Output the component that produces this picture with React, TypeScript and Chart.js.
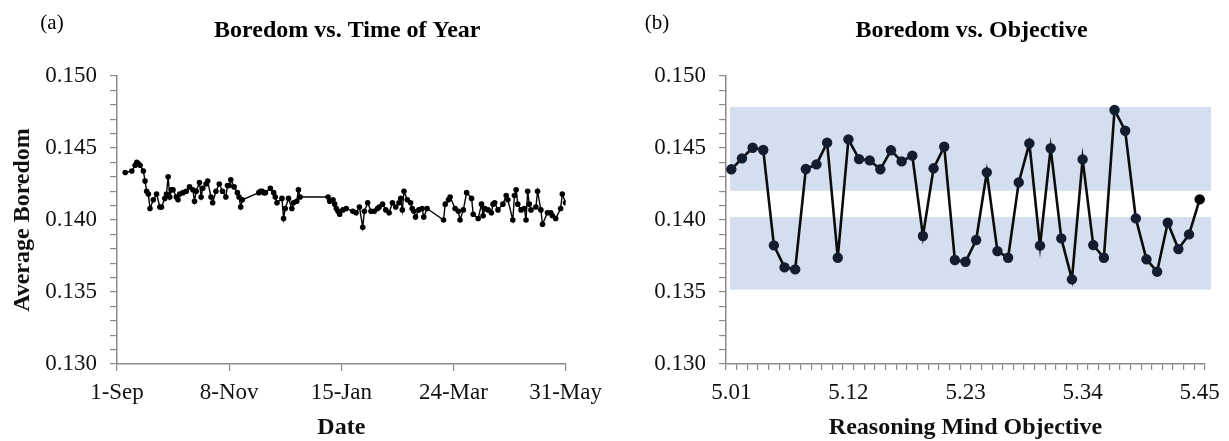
import React, { useEffect, useRef } from 'react';
import { Chart, registerables } from 'chart.js';

Chart.register(...registerables);

const FONT = '"Liberation Serif", "Times New Roman", serif';
const AXIS = '#8a8a8a';

// Panel (a): boredom vs. time of year (x = days after 1-Sep)
const dateTickDays = [0, 68, 136, 204, 272];
const dateTickLabels = ['1-Sep', '8-Nov', '15-Jan', '24-Mar', '31-May'];
const schoolDays = [
  5, 9, 11, 12, 13, 14, 16, 17, 18, 19, 20, 22, 24, 26, 27, 29, 30, 31, 32, 33,
  34, 36, 37, 38, 40, 42, 44, 46, 47, 48, 50, 51, 52, 54, 55, 57, 58, 60, 62, 64,
  66, 67, 68, 69, 71, 73, 74, 75, 76, 86, 87, 88, 89, 90, 93, 95, 96, 97, 100, 101,
  102, 104, 106, 107, 109, 110, 111, 128, 129, 131, 132, 133, 134, 135, 137, 139, 143, 145, 147, 149,
  150, 152, 154, 156, 158, 159, 161, 163, 165, 167, 169, 171, 172, 173, 174, 176, 178, 179, 180, 181,
  183, 185, 186, 188, 198, 199, 201, 202, 205, 207, 208, 210, 212, 215, 216, 219, 221, 222, 223, 225,
  227, 228, 229, 231, 234, 236, 237, 240, 241, 242, 243, 245, 247, 248, 249, 250, 251, 254, 255, 257,
  258, 261, 263, 264, 266, 269, 270, 272,
];
const boredomByDay = [
  0.1433, 0.1434, 0.1438, 0.1440, 0.1439, 0.1438, 0.1434, 0.1427, 0.1420, 0.1418, 0.1408, 0.1414, 0.1418, 0.1409, 0.1409, 0.1415, 0.1418, 0.1430, 0.1416, 0.1421,
  0.1421, 0.1416, 0.1414, 0.1418, 0.1419, 0.1420, 0.1423, 0.1421, 0.1413, 0.1420, 0.1426, 0.1416, 0.1422, 0.1425, 0.1427, 0.1416, 0.1412, 0.1420, 0.1425, 0.1420,
  0.1416, 0.1424, 0.1424, 0.1428, 0.1423, 0.1419, 0.1416, 0.1409, 0.1414, 0.1419, 0.1420, 0.1420, 0.1419, 0.1419, 0.1422, 0.1419, 0.1416, 0.1412, 0.1415, 0.1401,
  0.1408, 0.1415, 0.1408, 0.1412, 0.1413, 0.1421, 0.1416, 0.1416, 0.1413, 0.1414, 0.1411, 0.1408, 0.1406, 0.1404, 0.1407, 0.1408, 0.1406, 0.1405, 0.1409, 0.1395,
  0.1406, 0.1412, 0.1406, 0.1406, 0.1408, 0.1409, 0.1411, 0.1407, 0.1405, 0.1412, 0.1409, 0.1412, 0.1415, 0.1407, 0.1420, 0.1414, 0.1412, 0.1408, 0.1406, 0.1402,
  0.1407, 0.1408, 0.1402, 0.1408, 0.1400, 0.1411, 0.1414, 0.1416, 0.1408, 0.1406, 0.1400, 0.1407, 0.1419, 0.1415, 0.1404, 0.1401, 0.1411, 0.1403, 0.1408, 0.1407,
  0.1405, 0.1411, 0.1412, 0.1407, 0.1411, 0.1417, 0.1414, 0.1400, 0.1417, 0.1421, 0.1411, 0.1407, 0.1408, 0.1400, 0.1420, 0.1411, 0.1407, 0.1409, 0.1420, 0.1407,
  0.1397, 0.1405, 0.1405, 0.1403, 0.1401, 0.1408, 0.1418, 0.1412,
];

// Panel (b): boredom vs. Reasoning Mind objective
const objectiveLabels = [
  '5.01', '5.02', '5.03', '5.04', '5.05', '5.06', '5.07', '5.08', '5.09', '5.10',
  '5.11', '5.12', '5.13', '5.14', '5.15', '5.16', '5.17', '5.18', '5.19', '5.20',
  '5.21', '5.22', '5.23', '5.24', '5.25', '5.26', '5.27', '5.28', '5.29', '5.30',
  '5.31', '5.32', '5.33', '5.34', '5.35', '5.36', '5.37', '5.38', '5.39', '5.40',
  '5.41', '5.42', '5.43', '5.44', '5.45',
];
const boredomByObjective = [
  0.14352, 0.14428, 0.14502, 0.14486, 0.13824, 0.13671, 0.13657, 0.14354, 0.14386, 0.14537,
  0.13738, 0.14560, 0.14423, 0.14414, 0.14352, 0.14484, 0.14407, 0.14447, 0.13889, 0.14359,
  0.14509, 0.13722, 0.13710, 0.13861, 0.14331, 0.13784, 0.13738, 0.14261, 0.14532, 0.13822,
  0.14498, 0.13872, 0.13588, 0.14421, 0.13826, 0.13738, 0.14764, 0.14620, 0.14011, 0.13727,
  0.13641, 0.13981, 0.13798, 0.13900, 0.14143,
];
const bandLow = [0.14203, 0.13516];
const bandHigh = [0.14785, 0.14021];
const objectiveTickLabels = ['5.01', '5.12', '5.23', '5.34', '5.45'];

const Y_MIN = 0.13;
const Y_MAX = 0.15;

const panelText = {
  id: 'panelText',
  afterDraw(chart: any, _args: any, opts: any) {
    const { ctx, chartArea } = chart;
    ctx.save();
    ctx.fillStyle = '#000';
    ctx.textBaseline = 'middle';
    ctx.textAlign = 'center';
    ctx.font = `bold 24px ${FONT}`;
    ctx.fillText(opts.title, (chartArea.left + chartArea.right) / 2 + opts.titleShift, opts.titleY);
    ctx.font = `21px ${FONT}`;
    ctx.fillText(opts.letter, opts.letterX, opts.letterY);
    ctx.restore();
  },
};

const bandPlugin = {
  id: 'bands',
  beforeDatasetsDraw(chart: any, _args: any, opts: any) {
    if (!opts || !opts.show) return;
    const { ctx, chartArea, scales } = chart;
    const y = scales.y;
    ctx.save();
    ctx.fillStyle = '#d3deee';
    for (let i = 0; i < bandLow.length; i++) {
      const top = y.getPixelForValue(bandHigh[i]);
      const bot = y.getPixelForValue(bandLow[i]);
      const x0 = chartArea.left + 4;
      const x1 = chartArea.right + 6;
      ctx.fillRect(x0, top, x1 - x0, bot - top);
    }
    ctx.restore();
  },
};

function yScale(withTitle: boolean, width: number) {
  return {
    min: Y_MIN,
    max: Y_MAX,
    afterFit(scale: any) {
      scale.width = width;
    },
    border: { display: true, color: AXIS, width: 1.5 },
    grid: { drawOnChartArea: false, drawTicks: true, tickLength: 7, color: AXIS, lineWidth: 1.2 },
    ticks: {
      stepSize: 0.001,
      autoSkip: false,
      padding: 13,
      color: '#111',
      font: { family: FONT, size: 23 },
      callback: (v: number) => (Math.round(v * 1000) % 5 === 0 ? v.toFixed(3) : ''),
    },
    title: {
      display: withTitle,
      text: 'Average Boredom',
      color: '#111',
      font: { family: FONT, size: 24, weight: 'bold', lineHeight: 1 },
      padding: { top: 11, bottom: 0 },
    },
  };
}

function xTitle(text: string) {
  return {
    display: true,
    text,
    color: '#111',
    font: { family: FONT, size: 24, weight: 'bold', lineHeight: 1 },
    padding: { top: 0, bottom: 1 },
  };
}

export default function App() {
  const refA = useRef<HTMLCanvasElement>(null);
  const refB = useRef<HTMLCanvasElement>(null);

  useEffect(() => {
    const chartA = new Chart(refA.current as HTMLCanvasElement, {
      type: 'line',
      data: {
        datasets: [
          {
            data: schoolDays.map((d, i) => ({ x: d, y: boredomByDay[i] })),
            borderColor: '#000',
            backgroundColor: '#000',
            borderWidth: 1.4,
            pointRadius: 2.8,
            pointBorderWidth: 0,
            pointBackgroundColor: '#000',
            tension: 0,
          },
        ],
      },
      options: {
        responsive: false,
        animation: false,
        layout: { padding: { top: 76, right: 42, bottom: 0, left: 0 } },
        plugins: {
          legend: { display: false },
          tooltip: { enabled: false },
          panelText: { title: 'Boredom vs. Time of Year', titleShift: 6, titleY: 31, letter: '(a)', letterX: 52, letterY: 23 },
          bands: { show: false },
        } as any,
        scales: {
          x: {
            type: 'linear',
            min: dateTickDays[0],
            max: dateTickDays[dateTickDays.length - 1],
            afterFit(scale: any) {
              scale.height = 77;
            },
            afterBuildTicks(scale: any) {
              scale.ticks = dateTickDays.map((v) => ({ value: v }));
            },
            border: { display: true, color: AXIS, width: 1.5 },
            grid: { drawOnChartArea: false, drawTicks: true, tickLength: 7, color: AXIS, lineWidth: 1.2 },
            ticks: {
              autoSkip: false,
              maxRotation: 0,
              minRotation: 0,
              padding: 8,
              color: '#111',
              font: { family: FONT, size: 23 },
              callback: (_v: any, i: number) => dateTickLabels[i],
            },
            title: xTitle('Date'),
          },
          y: yScale(true, 117),
        } as any,
      },
      plugins: [panelText],
    });

    const chartB = new Chart(refB.current as HTMLCanvasElement, {
      type: 'line',
      data: {
        labels: objectiveLabels,
        datasets: [
          {
            data: boredomByObjective,
            borderColor: '#0c0c0c',
            backgroundColor: '#121e30',
            borderWidth: 2.6,
            pointRadius: 5.2,
            pointBorderWidth: 0,
            pointBackgroundColor: boredomByObjective.map((_, i) => (i === boredomByObjective.length - 1 ? '#000' : '#121e30')),
            tension: 0,
          },
        ],
      },
      options: {
        responsive: false,
        animation: false,
        layout: { padding: { top: 76, right: 17, bottom: 0, left: 0 } },
        plugins: {
          legend: { display: false },
          tooltip: { enabled: false },
          panelText: { title: 'Boredom vs. Objective', titleShift: 6, titleY: 31, letter: '(b)', letterX: 47, letterY: 23 },
          bands: { show: true },
        } as any,
        scales: {
          x: {
            type: 'category',
            offset: true,
            afterFit(scale: any) {
              scale.height = 77;
            },
            border: { display: true, color: AXIS, width: 1.5 },
            grid: { offset: true, drawOnChartArea: false, drawTicks: true, tickLength: 6, color: AXIS, lineWidth: 1.2 },
            ticks: {
              autoSkip: false,
              maxRotation: 0,
              minRotation: 0,
              padding: 9,
              color: '#111',
              font: { family: FONT, size: 23 },
              callback: (_v: any, i: number) =>
                objectiveTickLabels.includes(objectiveLabels[i]) ? objectiveLabels[i] : '',
            },
            title: xTitle('Reasoning Mind Objective'),
          },
          y: yScale(false, 116),
        } as any,
      },
      plugins: [panelText, bandPlugin],
    });

    return () => {
      chartA.destroy();
      chartB.destroy();
    };
  }, []);

  return (
    <div style={{ position: 'fixed', left: 0, top: 0, width: 1229, height: 441, background: '#fff' }}>
      <canvas ref={refA} width={610} height={441} style={{ position: 'absolute', left: 0, top: 0, width: 610, height: 441 }} />
      <canvas ref={refB} width={619} height={441} style={{ position: 'absolute', left: 610, top: 0, width: 619, height: 441 }} />
    </div>
  );
}
